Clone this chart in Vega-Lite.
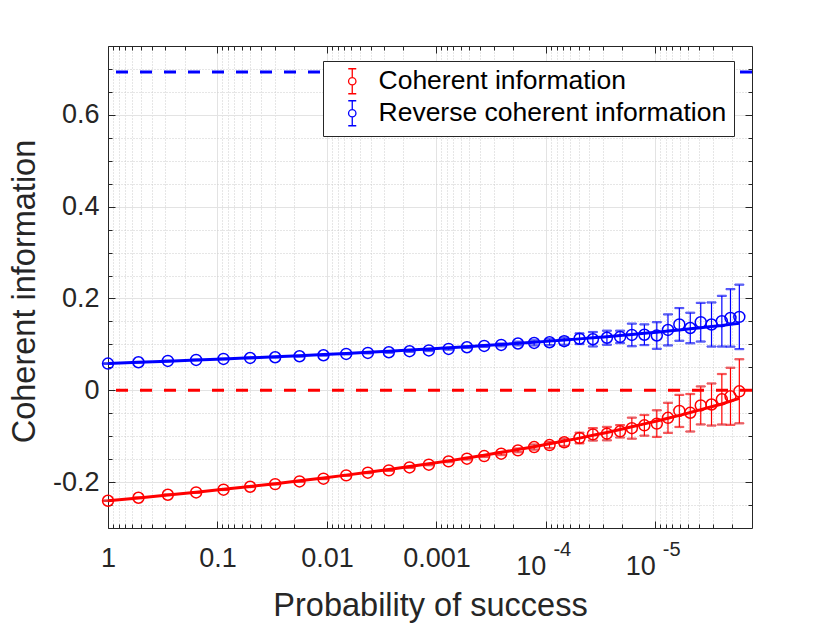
{
  "$schema": "https://vega.github.io/schema/vega-lite/v6.json",
  "width": 644,
  "height": 482,
  "autosize": "none",
  "padding": {"left": 108, "top": 46, "right": 78, "bottom": 95},
  "background": "white",
  "config": {
    "font": "Liberation Sans",
    "view": {"stroke": null},
    "axis": {
      "domainColor": "#262626",
      "domainWidth": 1,
      "tickColor": "#262626",
      "tickWidth": 1,
      "labelColor": "#262626",
      "labelFont": "Liberation Sans",
      "labelFontSize": 27,
      "titleColor": "#262626",
      "titleFont": "Liberation Sans",
      "titleFontSize": 32.5,
      "titleFontWeight": "normal",
      "labelOverlap": false,
      "labelFlush": false,
      "labelBound": false
    }
  },
  "data": {
    "values": [
      {"p": 1, "series": "Coherent information", "ci": -0.2406, "err": 0.0005, "fit": -0.2406},
      {"p": 0.527, "series": "Coherent information", "ci": -0.2341, "err": 0.0005, "fit": -0.2344},
      {"p": 0.284, "series": "Coherent information", "ci": -0.2276, "err": 0.0005, "fit": -0.2282},
      {"p": 0.1566, "series": "Coherent information", "ci": -0.2225, "err": 0.0006, "fit": -0.222},
      {"p": 0.0881, "series": "Coherent information", "ci": -0.2166, "err": 0.0006, "fit": -0.2158},
      {"p": 0.0503, "series": "Coherent information", "ci": -0.2101, "err": 0.0007, "fit": -0.2096},
      {"p": 0.0297, "series": "Coherent information", "ci": -0.2044, "err": 0.0007, "fit": -0.2034},
      {"p": 0.0178, "series": "Coherent information", "ci": -0.1985, "err": 0.0008, "fit": -0.1972},
      {"p": 0.01076, "series": "Coherent information", "ci": -0.1926, "err": 0.0008, "fit": -0.191},
      {"p": 0.00667, "series": "Coherent information", "ci": -0.1854, "err": 0.0009, "fit": -0.1848},
      {"p": 0.00423, "series": "Coherent information", "ci": -0.1795, "err": 0.001, "fit": -0.1786},
      {"p": 0.00272, "series": "Coherent information", "ci": -0.1745, "err": 0.0011, "fit": -0.1724},
      {"p": 0.00176, "series": "Coherent information", "ci": -0.168, "err": 0.0012, "fit": -0.1662},
      {"p": 0.001173, "series": "Coherent information", "ci": -0.162, "err": 0.0013, "fit": -0.16},
      {"p": 0.000774, "series": "Coherent information", "ci": -0.1549, "err": 0.0015, "fit": -0.1538},
      {"p": 0.000526, "series": "Coherent information", "ci": -0.149, "err": 0.0017, "fit": -0.1476},
      {"p": 0.000366, "series": "Coherent information", "ci": -0.1433, "err": 0.002, "fit": -0.1414},
      {"p": 0.000256, "series": "Coherent information", "ci": -0.1381, "err": 0.003, "fit": -0.1352},
      {"p": 0.00018, "series": "Coherent information", "ci": -0.1309, "err": 0.004, "fit": -0.129},
      {"p": 0.000128, "series": "Coherent information", "ci": -0.1237, "err": 0.0055, "fit": -0.1228},
      {"p": 9.26e-5, "series": "Coherent information", "ci": -0.1194, "err": 0.0065, "fit": -0.1166},
      {"p": 6.8e-5, "series": "Coherent information", "ci": -0.1134, "err": 0.0078, "fit": -0.1104},
      {"p": 4.93e-5, "series": "Coherent information", "ci": -0.104, "err": 0.0116, "fit": -0.1042},
      {"p": 3.72e-5, "series": "Coherent information", "ci": -0.096, "err": 0.0135, "fit": -0.098},
      {"p": 2.77e-5, "series": "Coherent information", "ci": -0.0944, "err": 0.0146, "fit": -0.0918},
      {"p": 2.1e-5, "series": "Coherent information", "ci": -0.0894, "err": 0.0135, "fit": -0.0856},
      {"p": 1.64e-5, "series": "Coherent information", "ci": -0.0825, "err": 0.0229, "fit": -0.0794},
      {"p": 1.26e-5, "series": "Coherent information", "ci": -0.0763, "err": 0.0225, "fit": -0.0732},
      {"p": 9.7e-6, "series": "Coherent information", "ci": -0.0726, "err": 0.029, "fit": -0.067},
      {"p": 7.67e-6, "series": "Coherent information", "ci": -0.06, "err": 0.0327, "fit": -0.0608},
      {"p": 6.04e-6, "series": "Coherent information", "ci": -0.045, "err": 0.0349, "fit": -0.0546},
      {"p": 4.8e-6, "series": "Coherent information", "ci": -0.049, "err": 0.0408, "fit": -0.0484},
      {"p": 3.85e-6, "series": "Coherent information", "ci": -0.033, "err": 0.0414, "fit": -0.0422},
      {"p": 3.07e-6, "series": "Coherent information", "ci": -0.031, "err": 0.0458, "fit": -0.036},
      {"p": 2.47e-6, "series": "Coherent information", "ci": -0.0196, "err": 0.055, "fit": -0.0298},
      {"p": 2.06e-6, "series": "Coherent information", "ci": -0.0131, "err": 0.0622, "fit": -0.0236},
      {"p": 1.71e-6, "series": "Coherent information", "ci": -0.0022, "err": 0.0698, "fit": -0.0174},
      {"p": 1, "series": "Reverse coherent information", "ci": 0.0582, "err": 0.0005, "fit": 0.0585},
      {"p": 0.527, "series": "Reverse coherent information", "ci": 0.0611, "err": 0.0005, "fit": 0.0609},
      {"p": 0.284, "series": "Reverse coherent information", "ci": 0.0639, "err": 0.0005, "fit": 0.0634},
      {"p": 0.1566, "series": "Reverse coherent information", "ci": 0.0661, "err": 0.0006, "fit": 0.0658},
      {"p": 0.0881, "series": "Reverse coherent information", "ci": 0.0683, "err": 0.0006, "fit": 0.0682},
      {"p": 0.0503, "series": "Reverse coherent information", "ci": 0.0704, "err": 0.0007, "fit": 0.0707},
      {"p": 0.0297, "series": "Reverse coherent information", "ci": 0.072, "err": 0.0007, "fit": 0.0731},
      {"p": 0.0178, "series": "Reverse coherent information", "ci": 0.0742, "err": 0.0008, "fit": 0.0755},
      {"p": 0.01076, "series": "Reverse coherent information", "ci": 0.0763, "err": 0.0008, "fit": 0.0779},
      {"p": 0.00667, "series": "Reverse coherent information", "ci": 0.0792, "err": 0.0009, "fit": 0.0804},
      {"p": 0.00423, "series": "Reverse coherent information", "ci": 0.0814, "err": 0.001, "fit": 0.0828},
      {"p": 0.00272, "series": "Reverse coherent information", "ci": 0.0829, "err": 0.0011, "fit": 0.0852},
      {"p": 0.00176, "series": "Reverse coherent information", "ci": 0.0851, "err": 0.0012, "fit": 0.0877},
      {"p": 0.001173, "series": "Reverse coherent information", "ci": 0.0868, "err": 0.0013, "fit": 0.0901},
      {"p": 0.000774, "series": "Reverse coherent information", "ci": 0.0901, "err": 0.0015, "fit": 0.0925},
      {"p": 0.000526, "series": "Reverse coherent information", "ci": 0.0938, "err": 0.0017, "fit": 0.095},
      {"p": 0.000366, "series": "Reverse coherent information", "ci": 0.0966, "err": 0.002, "fit": 0.0974},
      {"p": 0.000256, "series": "Reverse coherent information", "ci": 0.0988, "err": 0.003, "fit": 0.0998},
      {"p": 0.00018, "series": "Reverse coherent information", "ci": 0.1019, "err": 0.004, "fit": 0.1022},
      {"p": 0.000128, "series": "Reverse coherent information", "ci": 0.1032, "err": 0.0055, "fit": 0.1047},
      {"p": 9.26e-5, "series": "Reverse coherent information", "ci": 0.1047, "err": 0.0065, "fit": 0.1071},
      {"p": 6.8e-5, "series": "Reverse coherent information", "ci": 0.1069, "err": 0.0078, "fit": 0.1095},
      {"p": 4.93e-5, "series": "Reverse coherent information", "ci": 0.1123, "err": 0.0116, "fit": 0.112},
      {"p": 3.72e-5, "series": "Reverse coherent information", "ci": 0.1112, "err": 0.0157, "fit": 0.1144},
      {"p": 2.77e-5, "series": "Reverse coherent information", "ci": 0.1145, "err": 0.0153, "fit": 0.1168},
      {"p": 2.1e-5, "series": "Reverse coherent information", "ci": 0.1163, "err": 0.0135, "fit": 0.1193},
      {"p": 1.64e-5, "series": "Reverse coherent information", "ci": 0.1206, "err": 0.0246, "fit": 0.1217},
      {"p": 1.26e-5, "series": "Reverse coherent information", "ci": 0.121, "err": 0.0225, "fit": 0.1241},
      {"p": 9.7e-6, "series": "Reverse coherent information", "ci": 0.1193, "err": 0.029, "fit": 0.1265},
      {"p": 7.67e-6, "series": "Reverse coherent information", "ci": 0.1315, "err": 0.0338, "fit": 0.129},
      {"p": 6.04e-6, "series": "Reverse coherent information", "ci": 0.1435, "err": 0.0356, "fit": 0.1314},
      {"p": 4.8e-6, "series": "Reverse coherent information", "ci": 0.1357, "err": 0.0332, "fit": 0.1338},
      {"p": 3.85e-6, "series": "Reverse coherent information", "ci": 0.1483, "err": 0.0421, "fit": 0.1363},
      {"p": 3.07e-6, "series": "Reverse coherent information", "ci": 0.1433, "err": 0.048, "fit": 0.1387},
      {"p": 2.47e-6, "series": "Reverse coherent information", "ci": 0.1505, "err": 0.0552, "fit": 0.1411},
      {"p": 2.06e-6, "series": "Reverse coherent information", "ci": 0.1577, "err": 0.0626, "fit": 0.1436},
      {"p": 1.71e-6, "series": "Reverse coherent information", "ci": 0.1599, "err": 0.0702, "fit": 0.146}
    ]
  },
  "resolve": {"axis": {"x": "independent", "y": "independent"}},
  "layer": [
    {
      "data": {
        "values": [
          {"series": "Coherent information", "bound": 0},
          {"series": "Reverse coherent information", "bound": 0.6931}
        ]
      },
      "mark": {"type": "rule", "strokeWidth": 3, "strokeDash": [12, 12]},
      "encoding": {
        "y": {"field": "bound", "type": "quantitative", "axis": null},
        "stroke": {
          "field": "series",
          "type": "nominal",
          "scale": {"domain": ["Reverse coherent information", "Coherent information"], "range": ["#0000ff", "#ff0000"]},
          "legend": null
        }
      }
    },
    {
      "mark": {"type": "errorbar", "thickness": 1.2, "ticks": {"size": 9}},
      "encoding": {
        "x": {
          "field": "p",
          "type": "quantitative",
          "axis": {
            "orient": "bottom",
            "title": null,
            "domain": false,
            "ticks": false,
            "tickSize": 0,
            "grid": false,
            "values": [0.0001, 0.00001],
            "labelExpr": "datum.value > 0.00005 ? '-4' : '-5'",
            "labelFontSize": 20,
            "labelBaseline": "alphabetic",
            "labelAlign": "left",
            "labelOffset": 7,
            "labelPadding": 27
          }
        },
        "y": {"field": "ci", "type": "quantitative", "axis": null},
        "yError": {"field": "err"},
        "stroke": {"field": "series", "type": "nominal", "legend": null}
      }
    },
    {
      "mark": {"type": "point", "shape": "circle", "filled": false, "size": 120, "strokeWidth": 1.5, "opacity": 1},
      "encoding": {
        "x": {
          "field": "p",
          "type": "quantitative",
          "axis": {
            "orient": "top",
            "title": null,
            "labels": false,
            "grid": false,
            "values": [1, 0.9, 0.8, 0.7, 0.6, 0.5, 0.4, 0.3, 0.2, 0.1, 0.09, 0.08, 0.07, 0.06, 0.05, 0.04, 0.03, 0.02, 0.01, 0.009, 0.008, 0.007, 0.006, 0.005, 0.004, 0.003, 0.002, 0.001, 0.0009, 0.0008, 0.0007, 0.0006, 0.0005, 0.0004, 0.0003, 0.0002, 0.0001, 0.00009, 0.00008, 0.00007, 0.00006, 0.00005, 0.00004, 0.00003, 0.00002, 0.00001, 0.000009, 0.000008, 0.000007, 0.000006, 0.000005, 0.000004, 0.000003, 0.000002],
            "tickSize": {"condition": {"test": "indexof([1, 0.1, 0.01, 0.001, 0.0001, 0.00001], datum.value) >= 0", "value": -7}, "value": -4}
          }
        },
        "y": {
          "field": "ci",
          "type": "quantitative",
          "axis": {
            "orient": "right",
            "title": null,
            "labels": false,
            "grid": false,
            "values": [-0.25, -0.2, -0.15, -0.1, -0.05, 0, 0.05, 0.1, 0.15, 0.2, 0.25, 0.3, 0.35, 0.4, 0.45, 0.5, 0.55, 0.6, 0.65, 0.7],
            "tickSize": {"condition": {"test": "indexof([-0.2, 0, 0.2, 0.4, 0.6], datum.value) >= 0", "value": -7}, "value": -4}
          }
        },
        "color": {
          "field": "series",
          "type": "nominal",
          "scale": {"domain": ["Coherent information", "Reverse coherent information"], "range": ["#ff0000", "#0000ff"]},
          "legend": {
            "title": null,
            "orient": "none",
            "legendX": 215,
            "legendY": 15,
            "fillColor": "white",
            "strokeColor": "#262626",
            "padding": 7,
            "labelFont": "Liberation Sans",
            "labelFontSize": 26.5,
            "labelColor": "#000000",
            "labelLimit": 500,
            "symbolSize": 400,
            "symbolStrokeWidth": 1.3,
            "symbolOffset": 9,
            "labelOffset": 13,
            "rowPadding": 1,
            "symbolType": "M0,-1.25L0,-0.38M0,0.38L0,1.25M-0.4,-1.25L0.4,-1.25M-0.4,1.25L0.4,1.25M0.37,0A0.37,0.37,0,1,1,-0.37,0A0.37,0.37,0,1,1,0.37,0"
          }
        }
      }
    },
    {
      "mark": {"type": "line", "strokeWidth": 3},
      "encoding": {
        "x": {
          "field": "p",
          "type": "quantitative",
          "scale": {"type": "log", "domain": [1.31e-6, 1], "reverse": true, "nice": false},
          "axis": {
            "orient": "bottom",
            "title": "Probability of success",
            "titleY": 87,
            "titleBaseline": "alphabetic",
            "values": [1, 0.9, 0.8, 0.7, 0.6, 0.5, 0.4, 0.3, 0.2, 0.1, 0.09, 0.08, 0.07, 0.06, 0.05, 0.04, 0.03, 0.02, 0.01, 0.009, 0.008, 0.007, 0.006, 0.005, 0.004, 0.003, 0.002, 0.001, 0.0009, 0.0008, 0.0007, 0.0006, 0.0005, 0.0004, 0.0003, 0.0002, 0.0001, 0.00009, 0.00008, 0.00007, 0.00006, 0.00005, 0.00004, 0.00003, 0.00002, 0.00001, 0.000009, 0.000008, 0.000007, 0.000006, 0.000005, 0.000004, 0.000003, 0.000002],
            "labelExpr": "indexof([1, 0.1, 0.01, 0.001], datum.value) >= 0 ? format(datum.value, '~g') : indexof([0.0001, 0.00001], datum.value) >= 0 ? '10' : ''",
            "labelPadding": 45,
            "labelBaseline": {"condition": {"test": "datum.value < 0.0005", "value": "middle"}, "value": "alphabetic"},
            "labelAlign": {"condition": {"test": "datum.value < 0.0005", "value": "right"}, "value": "center"},
            "tickSize": {"condition": {"test": "indexof([1, 0.1, 0.01, 0.001, 0.0001, 0.00001], datum.value) >= 0", "value": -7}, "value": -4},
            "grid": true,
            "gridColor": {"condition": {"test": "indexof([1, 0.1, 0.01, 0.001, 0.0001, 0.00001], datum.value) >= 0", "value": "#e3e3e3"}, "value": "#cdcdcd"},
            "gridDash": {"condition": {"test": "indexof([1, 0.1, 0.01, 0.001, 0.0001, 0.00001], datum.value) >= 0", "value": []}, "value": [1, 2]}
          }
        },
        "y": {
          "field": "fit",
          "type": "quantitative",
          "scale": {"domain": [-0.3, 0.75], "nice": false, "zero": false},
          "axis": {
            "orient": "left",
            "title": "Coherent information",
            "titleX": -74,
            "titleY": 245,
            "titleBaseline": "alphabetic",
            "values": [-0.25, -0.2, -0.15, -0.1, -0.05, 0, 0.05, 0.1, 0.15, 0.2, 0.25, 0.3, 0.35, 0.4, 0.45, 0.5, 0.55, 0.6, 0.65, 0.7],
            "labelExpr": "indexof([-0.2, 0, 0.2, 0.4, 0.6], datum.value) >= 0 ? datum.value + '' : ''",
            "labelPadding": 16,
            "tickSize": {"condition": {"test": "indexof([-0.2, 0, 0.2, 0.4, 0.6], datum.value) >= 0", "value": -7}, "value": -4},
            "grid": true,
            "gridColor": {"condition": {"test": "indexof([-0.2, 0, 0.2, 0.4, 0.6], datum.value) >= 0", "value": "#e3e3e3"}, "value": "#cdcdcd"},
            "gridDash": {"condition": {"test": "indexof([-0.2, 0, 0.2, 0.4, 0.6], datum.value) >= 0", "value": []}, "value": [1, 2]}
          }
        },
        "stroke": {"field": "series", "type": "nominal", "legend": null}
      }
    }
  ]
}
